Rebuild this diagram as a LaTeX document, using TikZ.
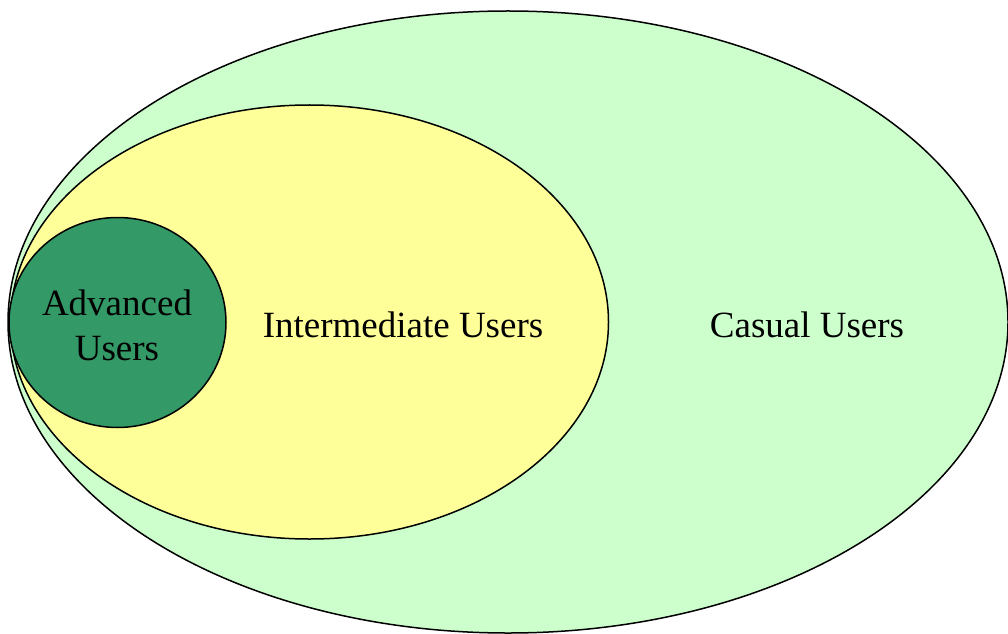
\documentclass[tikz,border=0pt]{standalone}
\usepackage{fontspec}
\setmainfont{Liberation Serif}
\usetikzlibrary{shapes.geometric}
\definecolor{casualfill}{HTML}{CCFFCC}
\definecolor{interfill}{HTML}{FFFF99}
\definecolor{advfill}{HTML}{339966}
\begin{document}
\begin{tikzpicture}[x=1pt,y=1pt,
  group/.style={ellipse, draw=black, line width=1.5pt, inner sep=0pt},
  lbl/.style={font=\fontsize{37}{45}\selectfont, align=center, text=black}]
\useasboundingbox (0,0) rectangle (1008,633);
% nested user groups
\node[group, fill=casualfill, minimum width=1000pt, minimum height=622pt] (casual) at (508,311) {};
\node[group, fill=interfill, minimum width=598pt, minimum height=434pt] (inter) at (309.5,311) {};
\node[group, fill=advfill, minimum width=217pt, minimum height=210pt] (adv) at (117.5,310.5) {};
% labels
\node[lbl] (advtxt) at (117,308) {Advanced\\Users};
\node[lbl] (intertxt) at (403,308) {Intermediate Users};
\node[lbl] (casualtxt) at (807,308) {Casual Users};
\end{tikzpicture}
\end{document}
